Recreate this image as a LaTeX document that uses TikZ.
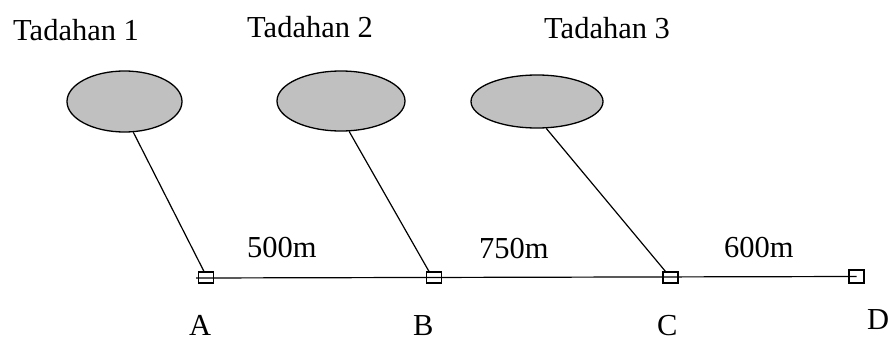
\documentclass[tikz,border=0pt]{standalone}
\usepackage{fontspec}
\setmainfont{Liberation Serif}
\usetikzlibrary{shapes.geometric}
\begin{document}
\begin{tikzpicture}[x=1pt,y=-1pt,
  catch/.style={draw=black,line width=1.3pt,fill=gray75,ellipse,inner sep=0pt},
  junction/.style={draw=black,line width=1.1pt,rectangle,inner sep=0pt,minimum width=15pt,minimum height=11pt},
  lbl/.style={anchor=base west,inner sep=0pt,font=\fontsize{30.5}{36}\selectfont},
  link/.style={draw=black,line width=1.2pt}]
\definecolor{gray75}{HTML}{C0C0C0}
\useasboundingbox (0,0) rectangle (889,340);
% catchments
\node[catch,minimum width=115pt,minimum height=61pt] (e1) at (124.5,101.5) {};
\node[catch,minimum width=128pt,minimum height=60pt] (e2) at (341,101) {};
\node[catch,minimum width=132pt,minimum height=53pt] (e3) at (537,101.5) {};
% main line
\coordinate (start) at (196,278);
\node[junction] (A) at (206,277.5) {};
\node[junction] (B) at (434,277.5) {};
\node[junction] (C) at (670.5,277.5) {};
\node[junction,minimum height=13pt] (D) at (856.5,276.5) {};
\draw[link] (start) -- (D.center);
\draw[link] (e1.-74) -- ([xshift=-2pt]A.north);
\draw[link] (e2.-75) -- ([xshift=-5pt]B.north);
\draw[link] (e3.-71) -- ([xshift=-5pt]C.north);
% labels
\node[lbl] (t1) at (13,40) {Tadahan 1};
\node[lbl] (t2) at (247,37) {Tadahan 2};
\node[lbl] (t3) at (544,38) {Tadahan 3};
\node[lbl] (d1) at (247,257) {500m};
\node[lbl] (d2) at (479,258) {750m};
\node[lbl] (d3) at (724,257) {600m};
\node[lbl] (lA) at (189,335) {A};
\node[lbl] (lB) at (413,335) {B};
\node[lbl] (lC) at (657,335) {C};
\node[lbl] (lD) at (867,329) {D};
\end{tikzpicture}
\end{document}
